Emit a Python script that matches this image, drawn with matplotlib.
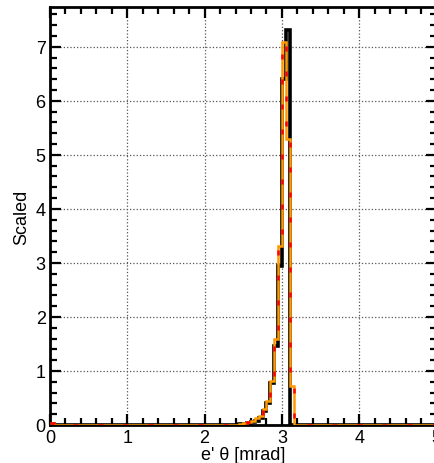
"""
Scattered electron angle distribution, three overlaid histograms
"""

import matplotlib.pyplot as plt
import numpy as np
from matplotlib.ticker import MultipleLocator

plt.rcParams['font.family'] = ['Liberation Sans', 'DejaVu Sans']

# Bin edges: 0.05 mrad bins from 0 to 5 mrad
bin_width = 0.05
edges = np.round(np.arange(0, 5.0 + bin_width / 2, bin_width), 4)

# Non-zero bins (lower edge in mrad -> scaled content)
black_bins = {
    0.00: 0.02, 2.45: 0.01, 2.50: 0.02, 2.55: 0.03, 2.60: 0.05, 2.65: 0.08,
    2.70: 0.12, 2.75: 0.25, 2.80: 0.40, 2.85: 0.78, 2.90: 1.47, 2.95: 2.95,
    3.00: 6.40, 3.05: 7.32,
}
orange_bins = {
    0.00: 0.04, 2.45: 0.02, 2.50: 0.04, 2.55: 0.06, 2.60: 0.08, 2.65: 0.12,
    2.70: 0.17, 2.75: 0.30, 2.80: 0.45, 2.85: 0.82, 2.90: 1.59, 2.95: 3.32,
    3.00: 7.09, 3.05: 5.30, 3.10: 0.72,
}
red_bins = dict(orange_bins)


def fill_bins(contents):
    values = np.zeros(len(edges) - 1)
    for lo, v in contents.items():
        values[int(round(lo / bin_width))] = v
    return values


black = fill_bins(black_bins)
orange = fill_bins(orange_bins)
red = fill_bins(red_bins)

fig = plt.figure(figsize=(4.34, 4.64), dpi=100)
ax = fig.add_axes([0.115, 0.082, 0.891, 0.901])

ax.stairs(black, edges, color='black', linewidth=2.6, baseline=None, zorder=3)
ax.stairs(orange, edges, color='#ff9900', linewidth=1.8, baseline=None, zorder=4)
ax.stairs(red, edges, color='red', linewidth=1.8, linestyle=(0, (2, 8)),
          baseline=None, zorder=5)

ax.set_xlim(0, 5)
ax.set_ylim(0, 7.74)
ax.xaxis.set_major_locator(MultipleLocator(1))
ax.xaxis.set_minor_locator(MultipleLocator(0.2))
ax.yaxis.set_major_locator(MultipleLocator(1))
ax.yaxis.set_minor_locator(MultipleLocator(0.2))

ax.tick_params(which='both', direction='in', top=True, right=True,
               width=1.6, labelsize=13)
ax.tick_params(which='major', length=8, pad=3)
ax.tick_params(which='minor', length=5)
for spine in ax.spines.values():
    spine.set_linewidth(2)

ax.grid(True, which='major', linestyle=':', color='#555555', linewidth=0.9)

ax.set_xlabel("e' θ [mrad]", fontsize=13, labelpad=0)
ax.set_ylabel('Scaled', fontsize=13, labelpad=4)

plt.savefig('out.png', dpi=100)
plt.close()
